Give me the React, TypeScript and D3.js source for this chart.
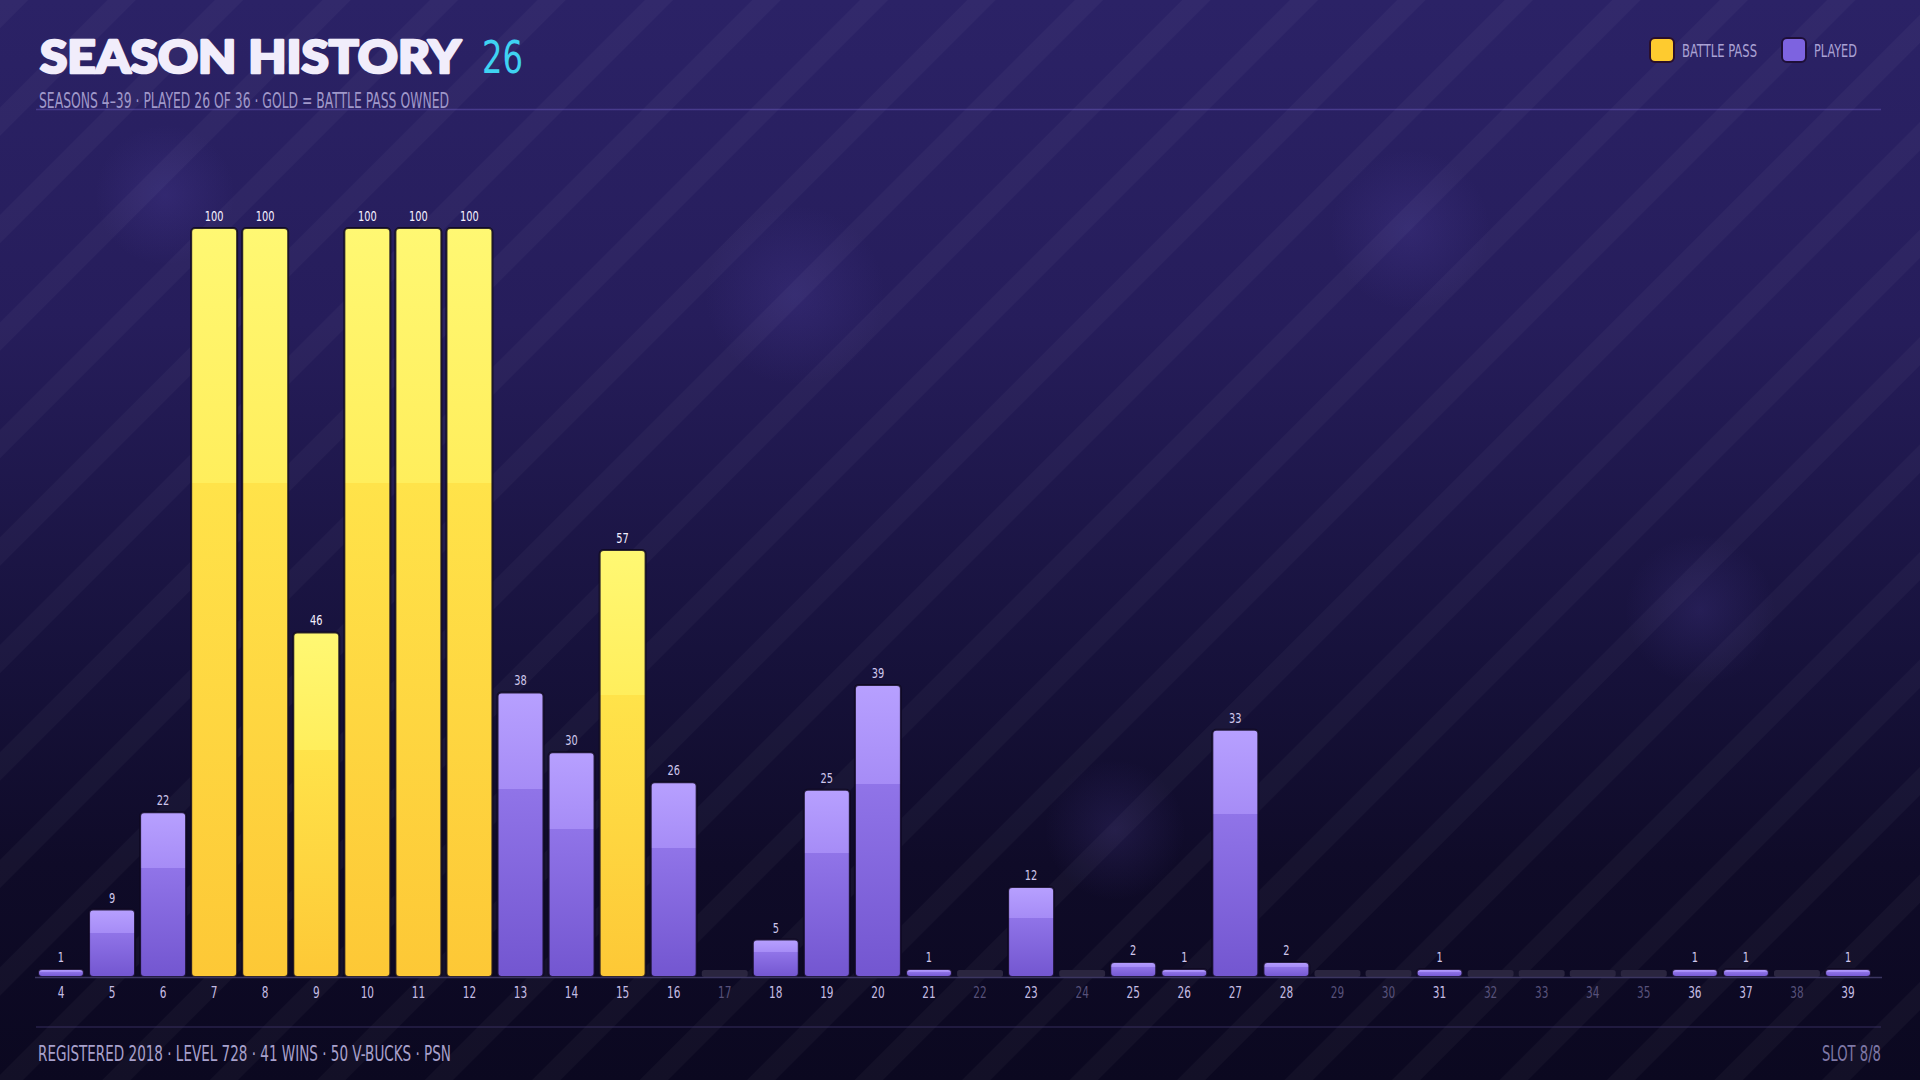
import * as d3 from 'd3'

// season numbers on the x axis
const seasons = [4, 5, 6, 7, 8, 9, 10, 11, 12, 13, 14, 15, 16, 17, 18, 19, 20, 21, 22, 23, 24, 25, 26, 27, 28, 29, 30, 31, 32, 33, 34, 35, 36, 37, 38, 39]
// tier reached in each season (0 = not played)
const tiers = [1, 9, 22, 100, 100, 46, 100, 100, 100, 38, 30, 57, 26, 0, 5, 25, 39, 1, 0, 12, 0, 2, 1, 33, 2, 0, 0, 1, 0, 0, 0, 0, 1, 1, 0, 1]
// seasons where the battle pass was owned
const battlePassSeasons = [7, 8, 9, 10, 11, 12, 15]

const legendLabels = ['BATTLE PASS', 'PLAYED']
const footerStats = ['REGISTERED 2018', 'LEVEL 728', '41 WINS', '50 V-BUCKS', 'PSN']

const W = 1920
const H = 1080
const NARROW = '"Liberation Sans Narrow", "DejaVu Sans Condensed", "Roboto Condensed", "Open Sans", sans-serif'

// condensed-looking label, squeezed horizontally round its anchor
function Narrow({ x, y, size, fill, children }: { x: number; y: number; size: number; fill: string; children: any }) {
  return (
    <text transform={`translate(${x},${y}) scale(0.78,1)`} textAnchor="middle" fill={fill}
      fontFamily={NARROW} fontStretch="condensed" fontSize={size}>{children}</text>
  )
}

export default function App() {
  const x = d3.scaleBand<number>()
    .domain(seasons)
    .range([38, 1871])
    .paddingInner(0.1)
    .paddingOuter(0)

  const y = d3.scaleLinear().domain([0, 100]).range([977, 228])
  const base = y(0)

  const played = tiers.filter(t => t > 0).length

  const glows = [
    { cx: 165, cy: 195, r: 70 },
    { cx: 795, cy: 295, r: 90 },
    { cx: 1410, cy: 230, r: 80 },
    { cx: 1115, cy: 830, r: 70 },
    { cx: 1700, cy: 610, r: 75 },
  ]

  return (
    <svg width={W} height={H} style={{ position: 'absolute', left: 0, top: 0, display: 'block' }}>
      <defs>
        <linearGradient id="bg" x1="0" y1="0" x2="0" y2="1">
          <stop offset="0" stopColor="#2b2266" />
          <stop offset="0.3" stopColor="#261d5b" />
          <stop offset="0.6" stopColor="#17123c" />
          <stop offset="0.8" stopColor="#0f0b28" />
          <stop offset="1" stopColor="#0b0820" />
        </linearGradient>
        <pattern id="stripes" patternUnits="userSpaceOnUse" width="76" height="76" patternTransform="rotate(45)">
          <rect x="0" y="0" width="20" height="76" fill="#ffffff" fillOpacity="0.03" />
        </pattern>
        <radialGradient id="glow">
          <stop offset="0" stopColor="#6a58c8" stopOpacity="0.16" />
          <stop offset="1" stopColor="#6a58c8" stopOpacity="0" />
        </radialGradient>
        <linearGradient id="gold" x1="0" y1="0" x2="0" y2="1">
          <stop offset="0" stopColor="#fff873" />
          <stop offset="0.34" stopColor="#ffee5c" />
          <stop offset="0.34" stopColor="#ffe34a" />
          <stop offset="1" stopColor="#fdc836" />
        </linearGradient>
        <linearGradient id="purple" x1="0" y1="0" x2="0" y2="1">
          <stop offset="0" stopColor="#b7a0ff" />
          <stop offset="0.34" stopColor="#a68cf6" />
          <stop offset="0.34" stopColor="#9074e8" />
          <stop offset="1" stopColor="#7356d0" />
        </linearGradient>
      </defs>

      <rect width={W} height={H} fill="url(#bg)" />
      {glows.map((g, i) => (
        <circle key={i} cx={g.cx} cy={g.cy} r={g.r} fill="url(#glow)" />
      ))}
      <rect width={W} height={H} fill="url(#stripes)" />

      {/* header */}
      <text x={40} y={73} fill="#f1edfb" stroke="#f1edfb" strokeWidth={2.6} strokeLinejoin="round"
        fontFamily="Lato, 'Noto Sans', sans-serif" fontWeight={900} fontSize={46}
        textLength={421} lengthAdjust="spacingAndGlyphs">SEASON HISTORY</text>
      <text x={482} y={73} fill="#3fd3f2" fontFamily={NARROW} fontStretch="condensed" fontSize={44}
        textLength={41} lengthAdjust="spacingAndGlyphs">{played}</text>
      <text x={39} y={108} fill="#a098ca" fontFamily={NARROW} fontStretch="condensed" fontSize={21}
        textLength={410} lengthAdjust="spacingAndGlyphs">
        {`SEASONS ${seasons[0]}–${seasons[seasons.length - 1]}  ·  PLAYED ${played} OF ${seasons.length}  ·  GOLD = BATTLE PASS OWNED`}
      </text>
      <line x1={36} x2={1881} y1={109.5} y2={109.5} stroke="#6c5cc0" strokeOpacity={0.45} strokeWidth={1.5} />

      {/* legend */}
      <rect x={1650} y={38} width={24} height={24} rx={5} fill="#fecb2f" stroke="#2a0f2c" strokeWidth={2} />
      <text x={1682} y={57} fill="#aaa2d4" fontFamily={NARROW} fontStretch="condensed" fontSize={18}
        textLength={75} lengthAdjust="spacingAndGlyphs">{legendLabels[0]}</text>
      <rect x={1782} y={38} width={24} height={24} rx={5} fill="#7d63e0" stroke="#1e0f38" strokeWidth={2} />
      <text x={1814} y={57} fill="#aaa2d4" fontFamily={NARROW} fontStretch="condensed" fontSize={18}
        textLength={43} lengthAdjust="spacingAndGlyphs">{legendLabels[1]}</text>

      {/* bars */}
      {seasons.map((s, i) => {
        const v = tiers[i]
        const bx = x(s)!
        const bw = x.bandwidth()
        if (v === 0) {
          return <rect key={s} x={bx} y={base - 7} width={bw} height={7} rx={2.5} fill="#2a253f" />
        }
        const top = Math.min(y(v), base - 8)
        const isBp = battlePassSeasons.includes(s)
        return (
          <g key={s}>
            <rect x={bx} y={top} width={bw} height={base - top} rx={4}
              fill={isBp ? 'url(#gold)' : 'url(#purple)'} stroke="#0e0820" strokeOpacity={0.85} strokeWidth={2} />
            <Narrow x={bx + bw / 2} y={top - 7} size={14} fill={isBp ? '#f4f0ff' : '#cfc7ec'}>{v}</Narrow>
          </g>
        )
      })}

      {/* axis */}
      <line x1={35} x2={1882} y1={base + 0.5} y2={base + 0.5} stroke="#3b3560" strokeWidth={1.5} />
      {seasons.map((s, i) => (
        <Narrow key={s} x={x(s)! + x.bandwidth() / 2} y={998} size={15}
          fill={tiers[i] > 0 ? '#c5bde3' : '#57517a'}>{s}</Narrow>
      ))}

      {/* footer */}
      <line x1={36} x2={1881} y1={1027} y2={1027} stroke="#3a3266" strokeOpacity={0.6} strokeWidth={1.5} />
      <text x={38} y={1061} fill="#a8a1cc" fontFamily={NARROW} fontStretch="condensed" fontSize={21}
        textLength={413} lengthAdjust="spacingAndGlyphs">{footerStats.join('  ·  ')}</text>
      <text x={1881} y={1061} textAnchor="end" fill="#7f78a6" fontFamily={NARROW} fontStretch="condensed" fontSize={21}
        textLength={59} lengthAdjust="spacingAndGlyphs">SLOT 8/8</text>
    </svg>
  )
}
